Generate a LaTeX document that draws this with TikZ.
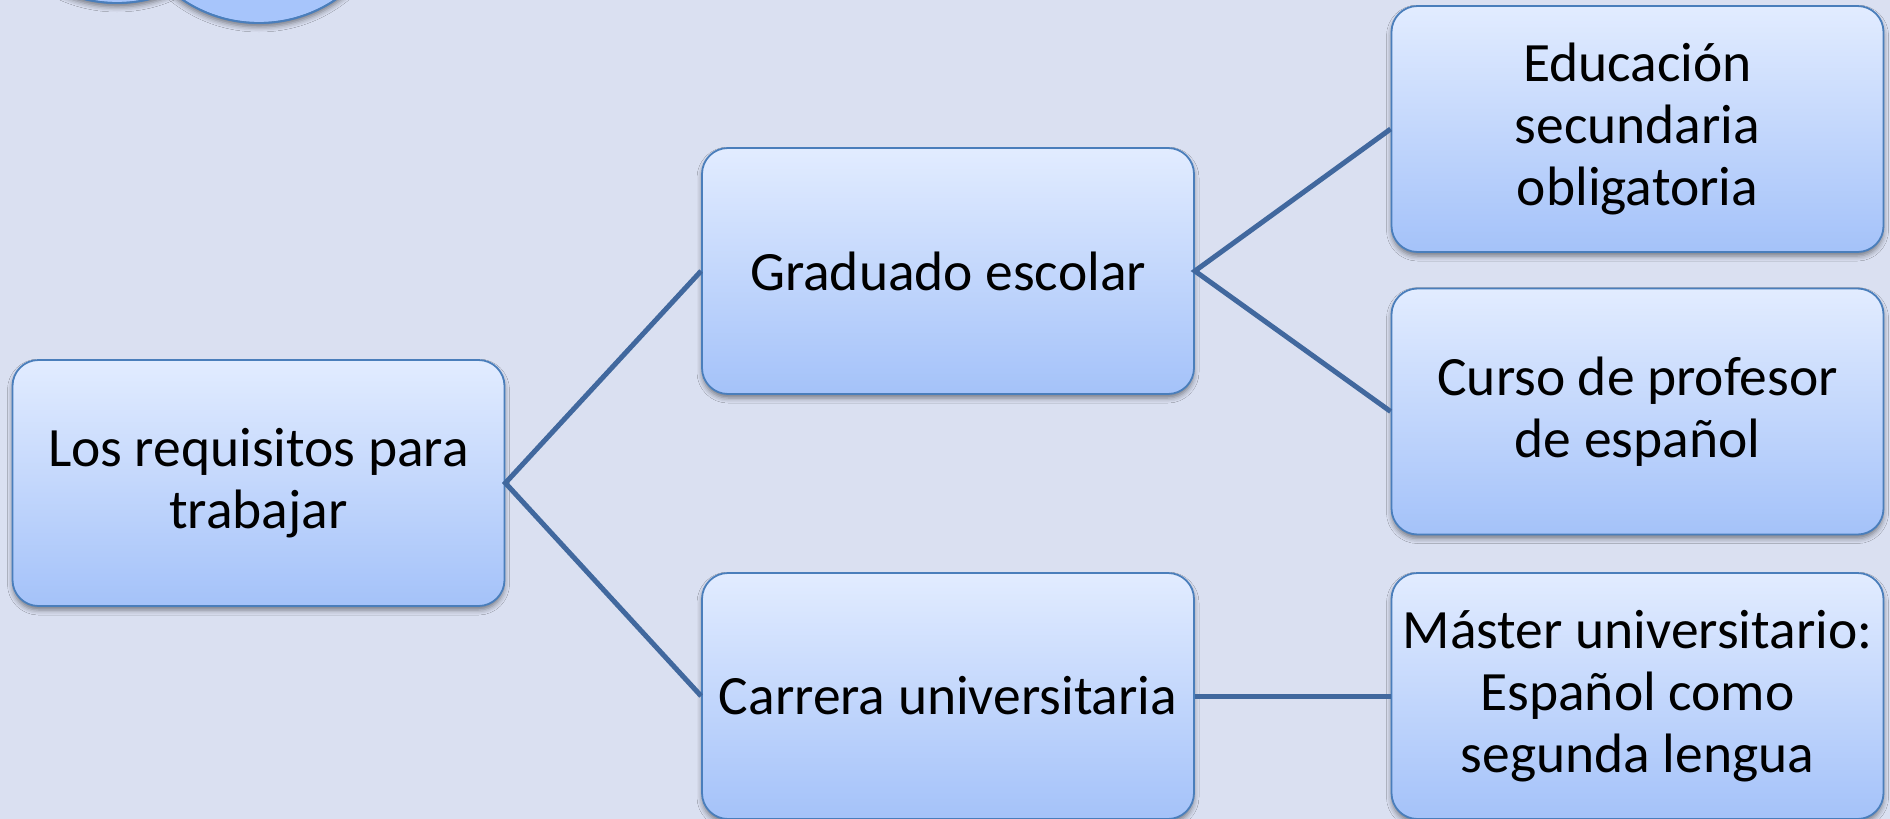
\documentclass[tikz,border=0pt]{standalone}
\usepackage{fontspec}
\setmainfont{Carlito}
\usetikzlibrary{shadows.blur}
\definecolor{bgcol}{HTML}{DAE0F1}
\definecolor{boxtop}{HTML}{E2ECFF}
\definecolor{boxbot}{HTML}{A4C2F9}
\definecolor{boxline}{HTML}{4A7EBB}
\definecolor{linkcol}{HTML}{41689E}
\definecolor{ovalfill}{HTML}{A7C5FB}
\tikzset{
  box/.style={rectangle, rounded corners=26pt, draw=boxline, line width=1.8pt,
    top color=boxtop, bottom color=boxbot, minimum width=492pt, minimum height=246pt,
    align=center, inner sep=0pt,
    font=\fontsize{55.5}{62}\selectfont,
    blur shadow={shadow xshift=0pt, shadow yshift=-4pt, shadow blur radius=5pt, shadow opacity=45}},
  link/.style={draw=linkcol, line width=5pt},
  oval/.style={fill=ovalfill, draw=boxline, line width=1.8pt,
    blur shadow={shadow xshift=0pt, shadow yshift=-4pt, shadow blur radius=5pt, shadow opacity=45}}
}
\begin{document}
\begin{tikzpicture}[x=1pt, y=-1pt]
\useasboundingbox (0,0) rectangle (1890,819);
\fill[bgcol] (0,0) rectangle (1890,819);
\begin{scope}
\clip (0,0) rectangle (1890,819);
\fill[oval] (117,-134) circle[radius=137];
\fill[oval] (259,-114) circle[radius=137];
\draw[boxline, line width=1.8pt] (117,-134) circle[radius=137];
\draw[boxline, line width=1.8pt] (259,-114) circle[radius=137];
\node[box] (root) at (258.5,483) {Los requisitos para\\trabajar};
\node[box] (grad) at (948,271) {Graduado escolar};
\node[box] (carr) at (948,696) {Carrera universitaria};
\node[box] (edu) at (1637.5,129) {Educación\\secundaria\\obligatoria};
\node[box] (curso) at (1637.5,411.5) {Curso de profesor\\de español};
\node[box] (mast) at (1637.5,696) {Máster universitario:\\Español como\\segunda lengua};
\end{scope}
\draw[link] (grad.west) -- (root.east) -- (carr.west);
\draw[link] (edu.west) -- (grad.east) -- (curso.west);
\draw[link] (carr.east) -- (mast.west);
\end{tikzpicture}
\end{document}
